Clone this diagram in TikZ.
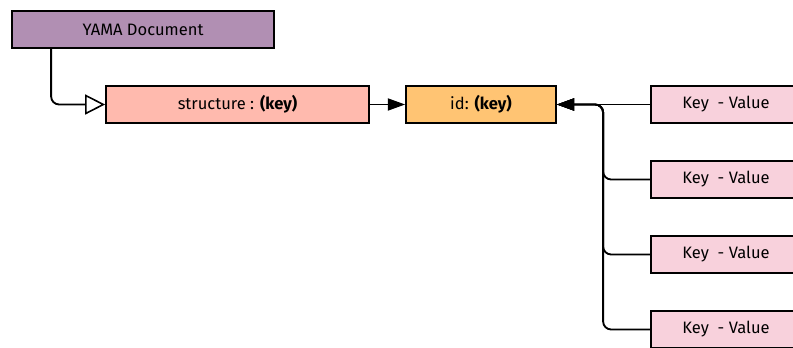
\documentclass[tikz,border=0pt]{standalone}
\usepackage{fontspec}
\setmainfont{Fira Sans}
\usetikzlibrary{arrows.meta,positioning}

\begin{document}
\begin{tikzpicture}[
      x=0.75pt, y=-0.75pt,
      every node/.style={font=\fontsize{12.4}{14}\selectfont},
      box/.style={draw, line width=1.3pt, minimum height=37*0.75pt, inner sep=0pt}, % common box look
      docbox/.style={box, fill=docfill, minimum width=262*0.75pt},
      structbox/.style={box, fill=structfill, minimum width=263*0.75pt},
      idbox/.style={box, fill=idfill, minimum width=150*0.75pt},
      kvbox/.style={box, fill=kvfill, minimum width=150*0.75pt},
      link/.style={line width=1.4pt, rounded corners=6pt},
      tip/.style={link, -{Triangle[length=13pt, width=9pt]}},
      extends/.style={link, -{Triangle[open, length=15pt, width=15pt, line width=1.2pt]}}
    ]
    \definecolor{docfill}{HTML}{B18FB3}
    \definecolor{structfill}{HTML}{FFBAAE}
    \definecolor{idfill}{HTML}{FFC473}
    \definecolor{kvfill}{HTML}{F8D1DC}
    \useasboundingbox (0,0) rectangle (793,347);

    % main chain
    \node[docbox] (yama) at (143,29.5) {YAMA Document};
    \node[structbox] (structure) at (237.5,104.5) {structure : \textbf{(key)}};
    \node[idbox] (id) at (481,104.5) {id: \textbf{(key)}};

    % key - value entries
    \foreach \i/\y in {1/104.5, 2/179.5, 3/254.5, 4/329.5}
        \node[kvbox] (kv\i) at (726,\y) {Key\ \ - Value};

    % connectors
    \draw[extends] (yama.south west) ++(40,0) |- (structure.west);
    \draw[tip] (structure) -- (id);
    \draw[tip] (kv1) -- (id);
    \foreach \i in {2,3,4}
        \draw[tip] (kv\i.west) -- ++(-47,0) |- (id.east);
\end{tikzpicture}
\end{document}
